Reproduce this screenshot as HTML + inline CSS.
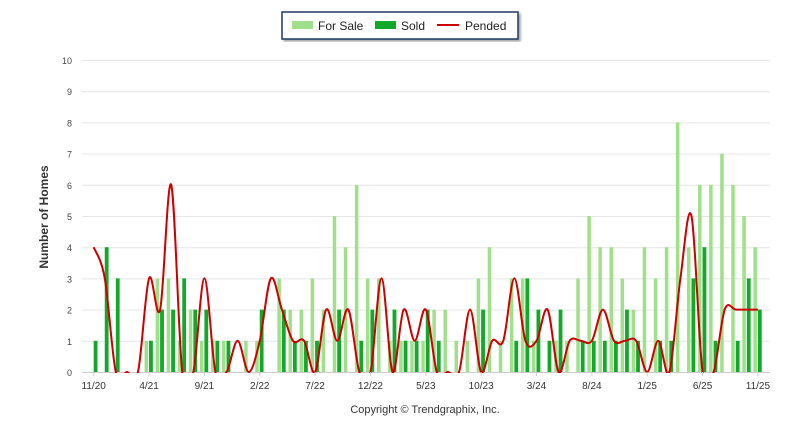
<!DOCTYPE html>
<html><head><meta charset="utf-8"><style>
body{margin:0;background:#fff;font-family:"Liberation Sans",sans-serif;}
svg text{font-family:"Liberation Sans",sans-serif;}
</style></head><body>
<svg id="chart" width="800" height="434" xmlns="http://www.w3.org/2000/svg">
<defs><clipPath id="pc"><rect x="80" y="55" width="700" height="318"/></clipPath>
<filter id="sh"><feDropShadow dx="2" dy="2" stdDeviation="1" flood-opacity="0.35"/></filter></defs>
<g>
<rect x="282" y="12" width="236" height="27" fill="#fff" stroke="#1f3864" stroke-width="1.5" filter="url(#sh)"/>
<rect x="292" y="21" width="21" height="8" fill="#a0e08a"/>
<text x="318" y="30" font-size="12" fill="#222">For Sale</text>
<rect x="375" y="21" width="21" height="8" fill="#12a92a"/>
<text x="401" y="30" font-size="12" fill="#222">Sold</text>
<line x1="437" y1="25" x2="459" y2="25" stroke="#cc0000" stroke-width="2"/>
<text x="465" y="30" font-size="12" fill="#222">Pended</text>
</g>
<text transform="translate(48,217) rotate(-90)" text-anchor="middle" font-size="12" font-weight="bold" fill="#333">Number of Homes</text>
<text x="425" y="413" text-anchor="middle" font-size="11" fill="#333">Copyright © Trendgraphix, Inc.</text>
<g id="grid"></g><g id="bars" clip-path="url(#pc)"></g><g id="line" clip-path="url(#pc)"></g><g id="xl"></g>
</svg>
<script>
const months=["11/20","12/20","1/21","2/21","3/21","4/21","5/21","6/21","7/21","8/21","9/21","10/21","11/21","12/21","1/22","2/22","3/22","4/22","5/22","6/22","7/22","8/22","9/22","10/22","11/22","12/22","1/23","2/23","3/23","4/23","5/23","6/23","7/23","8/23","9/23","10/23","11/23","12/23","1/24","2/24","3/24","4/24","5/24","6/24","7/24","8/24","9/24","10/24","11/24","12/24","1/25","2/25","3/25","4/25","5/25","6/25","7/25","8/25","9/25","10/25","11/25"];
const forSale=[0,0,0,0,0,1,3,3,1,2,1,1,1,0,1,1,0,3,2,2,3,2,5,4,6,3,3,1,1,1,1,2,2,1,1,3,4,1,3,3,1,0,1,1,3,5,4,4,3,2,4,3,4,8,4,6,6,7,6,5,4];
const sold=[1,4,3,0,0,1,2,2,3,2,2,1,1,0,0,2,0,2,1,1,1,0,2,0,1,2,0,2,1,1,2,1,0,0,0,2,0,0,1,3,2,1,2,0,1,1,1,1,2,1,0,1,1,0,3,4,1,0,1,3,2];
const pended=[4,3,0,0,0,3,2,6,0,0,3,0,0,1,0,1,3,2,1,1,0,2,1,2,0,0,3,0,2,1,2,0,0,0,2,0,1,1,3,1,1,2,0,1,1,1,2,1,1,1,0,1,0,3,5,0,0,2,2,2,2];
const yTicks=[0,1,2,3,4,5,6,7,8,9,10];
const NS="http://www.w3.org/2000/svg";
const X=i=>93.7+i*11.07, Y=v=>372-v*31.2;
function mk(t,a,p){const e=document.createElementNS(NS,t);for(const k in a)e.setAttribute(k,a[k]);p.appendChild(e);return e;}
const grid=document.getElementById('grid'),bars=document.getElementById('bars'),line=document.getElementById('line'),xl=document.getElementById('xl');
yTicks.forEach(v=>{
 const g=mk('line',{x1:82,x2:770,y1:Y(v)+0.5,y2:Y(v)+0.5,stroke:v?'#e6e6e6':'#ccc','stroke-width':1},grid);
 
 
 const t=mk('text',{x:72,y:Y(v)+4,'text-anchor':'end','font-size':9,fill:'#444'},grid);t.textContent=v;
 
 
});
months.forEach((m,i)=>{
 if(forSale[i]>0){const r=mk('rect',{x:X(i)-4.5,y:Y(forSale[i]),width:3.5,height:forSale[i]*31.2,fill:'#a0e08a'},bars);
 
 }
 if(sold[i]>0){const r=mk('rect',{x:X(i),y:Y(sold[i]),width:3.8,height:sold[i]*31.2,fill:'#12a92a'},bars);
 
 }
 if(i%5==0){const t=mk('text',{x:X(i),y:389,'text-anchor':'middle','font-size':10,fill:'#333'},xl);t.textContent=m;
 
 
 const tk=mk('line',{x1:X(i),x2:X(i),y1:372,y2:376,stroke:'#ccc'},xl);
 
 }
});
const pts=pended.map((v,i)=>[X(i),Y(v)]);
let d='M'+pts[0][0]+','+pts[0][1];
for(let i=0;i<pts.length-1;i++){
 const p0=pts[Math.max(0,i-1)],p1=pts[i],p2=pts[i+1],p3=pts[Math.min(pts.length-1,i+2)],k=1/6;
 d+=` C${p1[0]+(p2[0]-p0[0])*k},${p1[1]+(p2[1]-p0[1])*k} ${p2[0]-(p3[0]-p1[0])*k},${p2[1]-(p3[1]-p1[1])*k} ${p2[0]},${p2[1]}`;
}
const pl=mk('path',{d:d,fill:'none',stroke:'#cc0000','stroke-width':2},line);


</script>
</body></html>
